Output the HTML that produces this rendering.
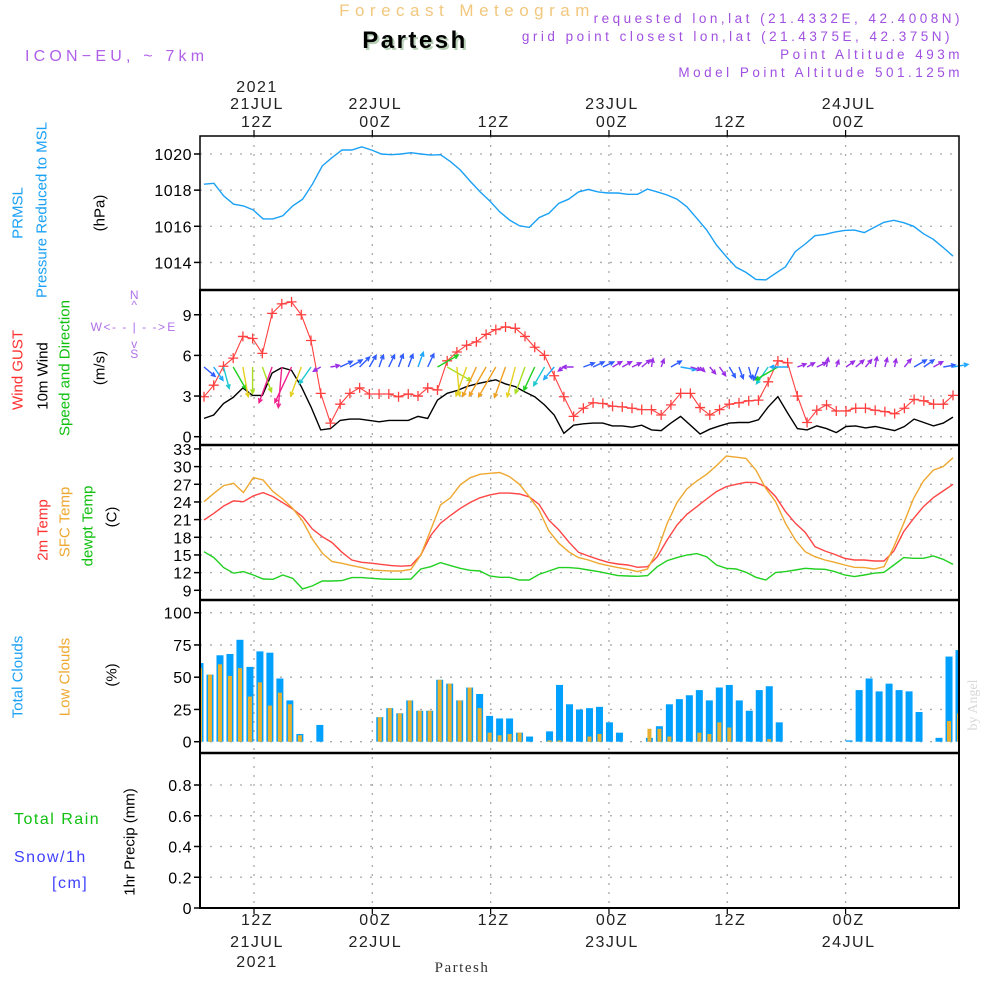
<!DOCTYPE html>
<html><head><meta charset="utf-8"><title>Partesh Meteogram</title>
<style>
html,body{margin:0;padding:0;background:#fff;}
svg{display:block;font-family:"Liberation Sans",sans-serif;}
</style></head>
<body>
<svg id="chart" xmlns="http://www.w3.org/2000/svg" width="1000" height="1000" viewBox="0 0 1000 1000">
<rect x="0" y="0" width="1000" height="1000" fill="#fff"/>
<text x="467" y="16" text-anchor="middle" font-size="17" letter-spacing="5.5" fill="#f2c77e">Forecast Meteogram</text>
<text x="417" y="50" text-anchor="middle" font-size="24" font-weight="bold" fill="#b8d0b8" letter-spacing="2.5">Partesh</text>
<text x="415" y="48" text-anchor="middle" font-size="24" font-weight="bold" fill="#000" letter-spacing="2.5">Partesh</text>
<text x="25" y="61" font-size="16" letter-spacing="4.2" fill="#b060e8">ICON−EU, ~ 7km</text>
<g font-size="13.5" letter-spacing="3.5" fill="#a050e0" text-anchor="end">
<text x="963" y="23">requested lon,lat (21.4332E, 42.4008N)</text>
<text x="953" y="41">grid point closest lon,lat (21.4375E, 42.375N)</text>
<text x="963" y="59">Point Altitude 493m</text>
<text x="963" y="77">Model Point Altitude 501.125m</text>
</g>
<text transform="rotate(-90 977 705)" x="977" y="705" text-anchor="middle" font-size="14" font-family="Liberation Serif, serif" fill="#d8d8d8">by Angel</text>
<g id="layer"></g>
</svg>
<script>
// ---- data ----
var pressure = [1018.33,1018.38,1017.68,1017.22,1017.13,1016.9,1016.41,1016.41,1016.58,1017.13,1017.5,1018.33,1019.34,1019.8,1020.22,1020.22,1020.4,1020.22,1020.0,1019.96,1020.0,1020.07,1020.0,1019.94,1019.96,1019.58,1019.12,1018.5,1017.92,
1017.4,1016.8,1016.35,1016.03,1015.94,1016.48,1016.72,1017.27,1017.5,1017.9,1018.04,1017.9,1017.84,1017.84,1017.77,1017.77,1018.06,1017.9,1017.73,1017.5,1017.08,1016.44,1015.8,1014.96,1014.32,1013.73,1013.45,1013.06,1013.03,1013.4,1013.76,1014.6,1015.02,1015.48,1015.55,1015.68,1015.77,1015.79,1015.65,1015.94,1016.22,1016.33,1016.2,1016.0,1015.59,1015.28,1014.83,1014.35];
var gust = [2.95,3.8,5.2,5.8,7.4,7.25,6.15,9.1,9.8,9.95,9.0,7.1,3.2,1.0,2.4,3.2,3.6,3.15,3.15,3.15,2.95,3.15,3.0,3.6,3.45,5.6,6.25,6.75,7.0,7.55,7.9,8.1,8.0,7.4,6.6,6.0,4.5,2.95,1.5,2.1,
2.5,2.45,2.25,2.2,2.1,2.0,2.0,1.6,2.35,3.2,3.2,2.15,1.6,2.0,2.4,2.5,2.65,2.7,4.05,5.6,5.45,3.0,1.05,1.95,2.35,1.9,1.9,2.1,2.1,1.95,1.85,1.7,2.1,2.75,2.65,2.4,2.4,3.05];
var wind = [1.35,1.6,2.45,2.9,3.6,3.05,3.05,4.7,5.1,4.9,3.7,2.2,0.5,0.6,1.2,1.3,1.3,1.2,1.1,1.2,1.2,1.2,1.5,1.35,2.7,3.2,3.4,3.7,3.9,4.05,4.2,3.9,3.7,3.3,2.95,2.35,1.6,0.25,0.85,0.95,
1.0,1.0,0.8,0.8,0.7,0.85,0.5,0.45,1.0,1.5,0.85,0.2,0.55,0.8,1.0,1.05,1.05,1.25,2.2,2.95,1.75,0.6,0.5,0.8,0.6,0.3,0.75,0.8,0.65,0.75,0.6,0.45,0.75,1.3,1.05,0.8,1.0,1.45];
var windDir = [130,145,165,150,170,180,160,200,185,205,200,215,240,80,65,60,45,30,20,25,20,20,20,25,60,120,175,200,205,210,210,200,195,200,205,210,220,235,270,70,
65,65,60,60,65,50,10,20,60,100,105,135,140,145,150,160,165,200,215,240,270,70,60,65,10,20,55,50,40,10,15,10,40,60,55,60,80,80];
var temp2m = [20.94,22.07,23.32,24.17,24.05,25.02,25.58,24.9,23.88,22.8,21.5,19.4,18.1,17.1,15.45,14.15,13.75,13.6,13.4,13.2,13.1,13.2,15.0,18.3,20.4,21.7,22.9,23.9,24.7,25.2,25.5,25.5,25.35,24.85,23.6,20.9,19.25,17.25,15.45,
14.83,14.26,13.75,13.47,13.3,12.9,13.0,14.7,17.55,20.1,21.9,23.2,24.5,25.75,26.6,27.0,27.33,27.28,26.6,24.9,22.36,20.4,18.85,16.4,15.68,15.1,14.43,14.15,14.15,13.98,13.98,15.68,18.96,21.2,23.2,24.73,25.86,27.0];
var tempSfc = [24.05,25.47,26.77,27.17,25.58,28.13,27.73,25.75,24.5,22.9,20.77,17.7,15.3,13.87,13.58,13.2,12.85,12.45,12.34,12.28,12.28,12.56,15.0,19.24,23.5,24.7,26.9,28.1,28.7,28.86,29.0,28.3,27.0,24.9,22.6,19.07,17.0,15.56,14.55,
14.15,13.58,13.19,12.85,12.56,12.17,12.62,15.68,20.38,23.94,26.2,27.56,28.7,30.17,31.8,31.6,31.4,29.4,26.3,24.05,20.38,17.55,15.56,14.7,14.15,13.75,13.3,12.9,12.85,12.62,13.0,16.4,20.38,24.6,27.56,29.4,30.0,31.5];
var dewpt = [15.56,14.55,12.85,11.9,12.17,11.6,10.92,10.87,11.6,11.04,9.23,9.74,10.58,10.58,10.64,11.15,11.15,11.04,10.92,10.87,10.87,10.92,12.62,13.0,13.7,13.19,12.74,12.4,12.28,11.43,11.2,11.2,10.75,10.75,11.7,12.28,12.85,12.85,12.74,
12.45,12.17,11.83,11.49,11.43,11.38,11.49,13.0,14.04,14.55,15.0,15.23,14.7,13.3,12.74,12.62,12.06,11.2,10.75,12.0,12.17,12.45,12.74,12.62,12.56,12.17,11.6,11.32,11.6,11.9,12.06,13.3,14.55,14.44,14.44,14.83,14.26,13.4];
var totalClouds = [61,52,67,68,79,58,70,69,49,32,6,0,13,0,0,0,0,0,19,26,22,32,24,24,48,45,32,42,37,20,18,18,7,4,0,8,44,29,25,
26,27,15,7,0,0,3,12,29,33,36,40,32,42,44,32,24,40,43,15,0,0,0,0,0,0,1,40,49,39,45,40,39,23,0,3,66,71];
var lowClouds = [57,52,60,51,57,35,46,28,38,29,5,0,0,0,0,0,0,0,19,26,22,32,24,24,48,45,32,42,26,7,5,6,7,0,0,1,1,0,0,
4,6,0,0,0,0,10,10,4,0,0,7,6,15,11,0,0,0,2,0,0,0,0,0,0,0,0,0,0,0,0,0,0,0,0,0,16,22];
var pressTicks = [1014,1016,1018,1020];
var windTicks = [0,3,6,9];
var tempTicks = [9,12,15,18,21,24,27,30,33];
var cloudTicks = [0,25,50,75,100];
var precipTicks = [0,0.2,0.4,0.6,0.8];
var timeGridHours = [0,12,24,36,48,60];
var topTimeLabels = [["2021","21JUL","12Z"],["","22JUL","00Z"],["","","12Z"],["","23JUL","00Z"],["","","12Z"],["","24JUL","00Z"]];
var bottomTimeLabels = [["12Z","21JUL","2021"],["00Z","22JUL",""],["12Z","",""],["00Z","23JUL",""],["12Z","",""],["00Z","24JUL",""]];

// ---- geometry ----
var NS='http://www.w3.org/2000/svg';
var layer=document.getElementById('layer');
var L=200,R=959;
function mk(tag,attrs,parent){var e=document.createElementNS(NS,tag);for(var k in attrs)e.setAttribute(k,attrs[k]);(parent||layer).appendChild(e);return e;}
function timeX(h){return 254+h*9.86;}
function lineX(k,n){return 204+k*(953-204)/(n-1);}
function barX(i,n){return 200+i*(R-200)/(n-1);}
function yPress(v){return 154+(1020-v)*18.07;}
function yWind(v){return 436.7-v*13.55;}
function yTemp(v){return 590.3-(v-9)*5.89;}
function yCloud(v){return 741.7-v*1.29;}
function yPrecip(v){return 908-v*153.75;}
var panels=[{t:136,b:290,name:'pressure'},{t:290,b:445,name:'wind'},{t:445,b:600,name:'temperature'},{t:600,b:753,name:'clouds'},{t:753,b:908,name:'precip'}];

var el;
function hgrid(vals,fy,name,fmt){
  for(var i=0;i<vals.length;i++){
    var y=fy(vals[i]);
    el=mk('line',{x1:L,x2:R,y1:y,y2:y,stroke:'#aaa','stroke-width':1.3,'stroke-dasharray':'2,8'});
    
    
    el=mk('line',{x1:L-6,x2:L,y1:y,y2:y,stroke:'#000','stroke-width':1.5});
    
    
    el=mk('text',{x:L-8,y:y+6,'text-anchor':'end','font-size':16,fill:'#000','letter-spacing':'0.5'});
    el.textContent=fmt?fmt(vals[i]):String(vals[i]);
    
    
  }
}
hgrid(pressTicks,yPress,'pressure-axis');
hgrid(windTicks,yWind,'wind-axis');
hgrid(tempTicks,yTemp,'temperature-axis');
hgrid(cloudTicks,yCloud,'cloud-axis');
hgrid(precipTicks,yPrecip,'precip-axis',function(v){return v===0?'0':v.toFixed(1);});
for(var i=0;i<timeGridHours.length;i++){
  var x=timeX(timeGridHours[i]);
  el=mk('line',{x1:x,x2:x,y1:136,y2:908,stroke:'#aaa','stroke-width':1.3,'stroke-dasharray':'2,7'});
  
  
  el=mk('line',{x1:x,x2:x,y1:130,y2:136,stroke:'#000','stroke-width':1.2});
  
  
  el=mk('line',{x1:x,x2:x,y1:908,y2:914,stroke:'#000','stroke-width':1.2});
  
  
  var tl=topTimeLabels[i],ys=[92,109,127];
  for(var j=0;j<3;j++){ if(!tl[j])continue;
    el=mk('text',{x:x+3,y:ys[j],'text-anchor':'middle','font-size':16,'letter-spacing':'1.5',fill:'#222'});
    el.textContent=tl[j];
    
    
  }
  var bl=bottomTimeLabels[i],by=[925,947,967];
  for(var j2=0;j2<3;j2++){ if(!bl[j2])continue;
    el=mk('text',{x:x+3,y:by[j2],'text-anchor':'middle','font-size':16,'letter-spacing':'1.5',fill:'#222'});
    el.textContent=bl[j2];
    
    
  }
}

function poly(arr,fy,color,name,w){
  var pts=[];for(var k=0;k<arr.length;k++)pts.push(lineX(k,arr.length).toFixed(1)+','+fy(arr[k]).toFixed(1));
  var e=mk('polyline',{points:pts.join(' '),fill:'none',stroke:color,'stroke-width':w||1.4});
  return e;
}
el=poly(pressure,yPress,'#1aa0f5','pressure-line');



for(var i=0;i<totalClouds.length;i++){
  var cx=barX(i,totalClouds.length);
  if(totalClouds[i]>0){
    var x0=Math.max(L,cx-3.5),x1=Math.min(R,cx+3.5);
    el=mk('rect',{x:x0,y:yCloud(totalClouds[i]),width:x1-x0,height:yCloud(0)-yCloud(totalClouds[i]),fill:'#00a0ff'});
    
    
  }
  if(lowClouds[i]>0){
    var lx0=Math.max(L,cx-2),lx1=Math.min(R,cx+2);
    el=mk('rect',{x:lx0,y:yCloud(lowClouds[i]),width:lx1-lx0,height:yCloud(0)-yCloud(lowClouds[i]),fill:'#e8b030'});
    
    
  }
}

el=poly(temp2m,yTemp,'#ff4545','temp-2m-line');


el=poly(tempSfc,yTemp,'#eea830','temp-sfc-line');


el=poly(dewpt,yTemp,'#22d022','dewpoint-line');



el=poly(wind,yWind,'#000','wind-speed-line',1.4);


el=poly(gust,yWind,'#ff4040','wind-gust-line',1.1);


for(var k=0;k<gust.length;k++){
  var gx=lineX(k,gust.length),gy=yWind(gust[k]);
  el=mk('path',{d:'M'+(gx-5)+' '+gy+'h10M'+gx+' '+(gy-5)+'v10',stroke:'#ff4040','stroke-width':1.3,fill:'none'});
  
  
}
function windColor(s){
  if(s<0.9)return '#9a2ee6'; if(s<1.4)return '#2f5bff'; if(s<2)return '#1fa8ff';
  if(s<2.6)return '#1ec8d0'; if(s<3)return '#1fd01f'; if(s<3.4)return '#a8e020';
  if(s<3.8)return '#e6d020'; if(s<4.3)return '#f0a020'; return '#f0208c';
}
for(var k=0;k<windDir.length;k++){
  var sx=lineX(k,windDir.length),sy=367,sp=wind[k];
  var len=5+7*sp,a=windDir[k]*Math.PI/180;
  var ex=sx+len*Math.sin(a),ey=sy-len*Math.cos(a);
  var h=4.5,a1=a+Math.PI-0.45,a2=a+Math.PI+0.45;
  var d='M'+sx.toFixed(1)+' '+sy+'L'+ex.toFixed(1)+' '+ey.toFixed(1)+
    'M'+(ex+h*Math.sin(a1)).toFixed(1)+' '+(ey-h*Math.cos(a1)).toFixed(1)+'L'+ex.toFixed(1)+' '+ey.toFixed(1)+
    'L'+(ex+h*Math.sin(a2)).toFixed(1)+' '+(ey-h*Math.cos(a2)).toFixed(1);
  el=mk('path',{d:d,stroke:windColor(sp),'stroke-width':1.4,fill:'none'});
  
  
}

for(var p=0;p<panels.length;p++){
  el=mk('rect',{x:L,y:panels[p].t,width:R-L,height:panels[p].b-panels[p].t,fill:'none',stroke:'#000','stroke-width':p==0?1.5:2});
  
  
}
for(var p=1;p<panels.length;p++){
  el=mk('line',{x1:L,x2:R+1,y1:panels[p].t,y2:panels[p].t,stroke:'#000','stroke-width':2.6});
  
  
}

var vlabels=[
 ['PRMSL',18,213,'#1aa0f5','pressure-title'],['Pressure Reduced to MSL',42,210,'#1aa0f5','pressure-subtitle'],['(hPa)',100,213,'#000','pressure-unit'],
 ['Wind GUST',18,370,'#ff3030','gust-title'],['10m Wind',43,376,'#000','wind-title'],['Speed and Direction',65,368,'#10c010','wind-subtitle'],['(m/s)',100,368,'#000','wind-unit'],
 ['2m Temp',43,530,'#ff3030','temp-2m-title'],['SFC Temp',65,522,'#eea830','temp-sfc-title'],['dewpt Temp',88,526,'#10c010','dewpoint-title'],['(C)',112,517,'#000','temp-unit'],
 ['Total Clouds',18,677,'#1aa0f5','total-clouds-title'],['Low Clouds',65,677,'#eea830','low-clouds-title'],['(%)',112,675,'#000','cloud-unit'],
 ['1hr Precip (mm)',130,842,'#000','precip-title']];
for(var i=0;i<vlabels.length;i++){
  var v=vlabels[i];
  el=mk('text',{x:v[1],y:v[2],transform:'rotate(-90 '+v[1]+' '+v[2]+')','text-anchor':'middle','dominant-baseline':'central','font-size':15,fill:v[3]});
  el.textContent=v[0];
  
  
}
var hl=[['Total  Rain',14,824,'#10c010','rain-legend'],['Snow/1h',14,862,'#4040ff','snow-legend'],['[cm]',52,888,'#4040ff','snow-unit']];
for(var i=0;i<hl.length;i++){
  el=mk('text',{x:hl[i][1],y:hl[i][2],'font-size':16,'letter-spacing':'1.5',fill:hl[i][3],'xml:space':'preserve'});
  el.textContent=hl[i][0];
  
  
}
var comp=[['N',135,299],['^',135,309],['W',97,331],['<- - | - ->',135,331],['E',172,331],['v',135,348],['S',135,358]];
for(var i=0;i<comp.length;i++){
  el=mk('text',{x:comp[i][1],y:comp[i][2],'text-anchor':'middle','font-size':12,'letter-spacing':'1.5',fill:'#b070e8'});
  el.textContent=comp[i][0];
  
  
}
el=mk('text',{x:462,y:972,'text-anchor':'middle','font-size':15,'font-family':'Liberation Serif, serif','letter-spacing':'1.5',fill:'#333'});
el.textContent='Partesh';


</script>
</body></html>
